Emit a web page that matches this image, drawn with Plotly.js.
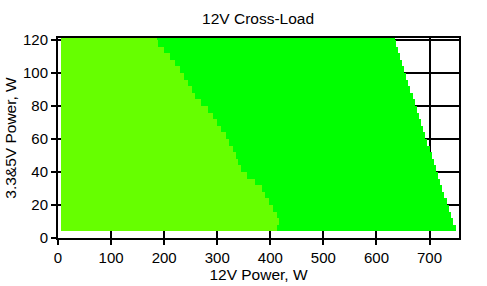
<!DOCTYPE html>
<html>
<head>
<meta charset="utf-8">
<script src="https://cdn.plot.ly/plotly-3.0.1.min.js"></script>
<style>html,body{margin:0;padding:0;background:#fff;}#chart{width:487px;height:286px;}</style>
</head>
<body>
<div id="chart"></div>
<script>
// 3.3&5V load rows (W, row centres)
const rowLoad3v5v = [6,10,14,18,22,26,30,34,38,42,46,50,54,58,62,66,70,74,78,82,86,90,94,98,102,106,110,114,118,122];
// 12V load where the light-green zone ends (W)
const lightZoneEnd12v = [412,416,413,405,397,390,384,372,357,345,340,335,330,323,316,308,299,292,282,270,259,252,245,237,229,220,211,200,188,186];
// 12V load where the green zone ends (W)
const greenZoneEnd12v = [749,744,740,736,732,728,724,720,716,712,708,704,700,696,692,688,684,680,676,672,668,664,660,656,652,648,644,640,636,635];
const minLoad12v = 5;
const rowHeight = 4;
const xTickVals = [0,100,200,300,400,500,600,700];
const yTickVals = [0,20,40,60,80,100,120];

const green = {
  type: 'bar', orientation: 'h',
  y: rowLoad3v5v,
  x: greenZoneEnd12v.map(v => v - minLoad12v),
  base: minLoad12v,
  width: rowHeight,
  marker: {color: '#00ff00', line: {width: 0}},
  hoverinfo: 'skip', showlegend: false
};
const light = {
  type: 'bar', orientation: 'h',
  y: rowLoad3v5v,
  x: lightZoneEnd12v.map(v => v - minLoad12v),
  base: minLoad12v,
  width: rowHeight,
  marker: {color: '#66ff00', line: {width: 0}},
  hoverinfo: 'skip', showlegend: false
};

const layout = {
  width: 487, height: 286,
  margin: {l: 58.3, r: 28.3, t: 38.3, b: 47.7, pad: 0},
  paper_bgcolor: '#ffffff', plot_bgcolor: '#ffffff',
  font: {family: 'Liberation Sans, Arial, sans-serif', size: 15, color: '#000'},
  barmode: 'overlay', bargap: 0,
  title: {text: '12V Cross-Load', x: 0.53, xanchor: 'center', y: 0.935, yanchor: 'middle', font: {size: 15.5, color: '#000'}},
  xaxis: {
    range: [0, 755.5], tickvals: xTickVals, ticktext: xTickVals.map(String),
    showgrid: true, gridcolor: '#000', gridwidth: 2,
    showline: true, linecolor: '#000', linewidth: 2, mirror: true,
    ticks: 'outside', ticklen: 5, tickwidth: 2, tickcolor: '#000',
    zeroline: false,
    title: {text: '12V Power, W', standoff: 1, font: {size: 15.5}}
  },
  yaxis: {
    range: [0, 121.2], tickvals: yTickVals, ticktext: yTickVals.map(String),
    showgrid: true, gridcolor: '#000', gridwidth: 2,
    showline: true, linecolor: '#000', linewidth: 2, mirror: true,
    ticks: 'outside', ticklen: 5, tickwidth: 2, tickcolor: '#000',
    zeroline: false,
    title: {text: '3.3&5V Power, W', standoff: 3, font: {size: 15.5}}
  }
};
Plotly.newPlot('chart', [green, light], layout, {staticPlot: true, displayModeBar: false});
</script>
</body>
</html>
